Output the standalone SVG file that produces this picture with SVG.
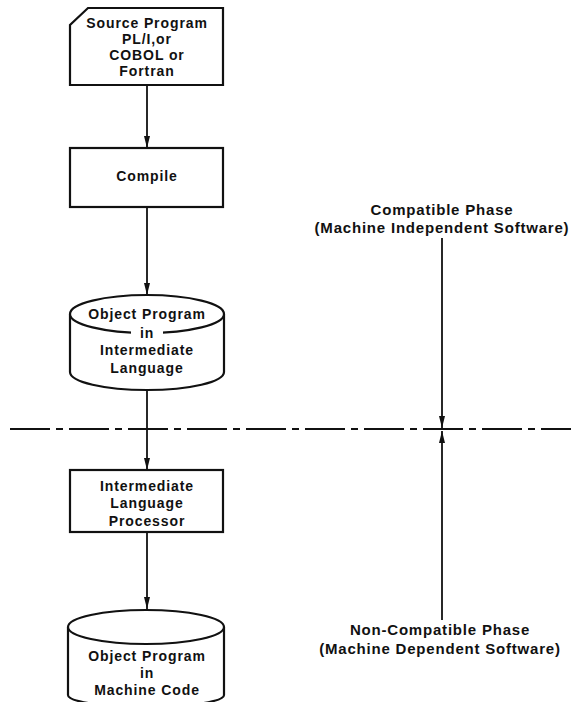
<svg xmlns="http://www.w3.org/2000/svg" width="571" height="702" viewBox="0 0 571 702">
<style>
.s{fill:#fff;stroke:#111;stroke-width:2.2;stroke-linejoin:miter}
.c{fill:none;stroke:#111;stroke-width:1.8}
.t{font-family:"Liberation Sans",Arial,sans-serif;font-size:14px;font-weight:bold;fill:#111;text-anchor:middle;letter-spacing:0.9px}
.l{font-size:15px;letter-spacing:0.8px}
.d{fill:none;stroke:#111;stroke-width:2.2;stroke-dasharray:40 6 7 6}
</style>
<defs>
<marker id="ah" viewBox="0 0 12 8" refX="12" refY="4" markerWidth="12" markerHeight="8" markerUnits="userSpaceOnUse" orient="auto">
<path d="M0,1 L12,4 L0,7 Z" fill="#111"/>
</marker>
</defs>
<rect width="571" height="702" fill="#fff"/>

<g id="connectors">
<line class="c" x1="147" y1="86" x2="147" y2="148" marker-end="url(#ah)"/>
<line class="c" x1="147" y1="207" x2="147" y2="295" marker-end="url(#ah)"/>
<line class="c" x1="147" y1="391" x2="147" y2="470" marker-end="url(#ah)"/>
<line class="c" x1="147" y1="532" x2="147" y2="609" marker-end="url(#ah)"/>
<line class="c" x1="442" y1="238" x2="442" y2="428" marker-end="url(#ah)"/>
<line class="c" x1="442" y1="620" x2="442" y2="431" marker-end="url(#ah)"/>
</g>

<g id="divider">
<line class="d" x1="10" y1="429" x2="571" y2="429"/>
</g>

<g id="source">
<polygon class="s" points="88,8 223,8 223,85 70,85 70,25"/>
<text class="t" x="147" y="28">Source Program</text>
<text class="t" x="147" y="44">PL/I,or</text>
<text class="t" x="147" y="60">COBOL or</text>
<text class="t" x="147" y="76">Fortran</text>
</g>

<g id="compile">
<rect class="s" x="70" y="148" width="153" height="59"/>
<text class="t" x="147" y="181">Compile</text>
</g>

<g id="object-intermediate">
<path class="s" d="M70,314 L70,372 A77,18 0 0 0 224,372 L224,314"/>
<ellipse class="s" cx="147" cy="314" rx="77" ry="19"/>
<rect x="131" y="326" width="32" height="14" fill="#fff"/>
<text class="t" x="147" y="319">Object Program</text>
<text class="t" x="147" y="338">in</text>
<text class="t" x="147" y="355">Intermediate</text>
<text class="t" x="147" y="373">Language</text>
</g>

<g id="il-processor">
<rect class="s" x="70" y="470" width="153" height="62"/>
<text class="t" x="147" y="491">Intermediate</text>
<text class="t" x="147" y="508">Language</text>
<text class="t" x="147" y="526">Processor</text>
</g>

<g id="object-machine">
<path class="s" d="M68,627 L68,695 A78,12 0 0 0 224,695 L224,627"/>
<ellipse class="s" cx="146" cy="627" rx="78" ry="17"/>
<text class="t" x="147" y="661">Object Program</text>
<text class="t" x="147" y="678">in</text>
<text class="t" x="147" y="695">Machine Code</text>
</g>

<g id="labels">
<text class="t l" x="442" y="215">Compatible Phase</text>
<text class="t l" x="442" y="233">(Machine Independent Software)</text>
<text class="t l" x="440" y="635">Non-Compatible Phase</text>
<text class="t l" x="440" y="654">(Machine Dependent Software)</text>
</g>
</svg>
